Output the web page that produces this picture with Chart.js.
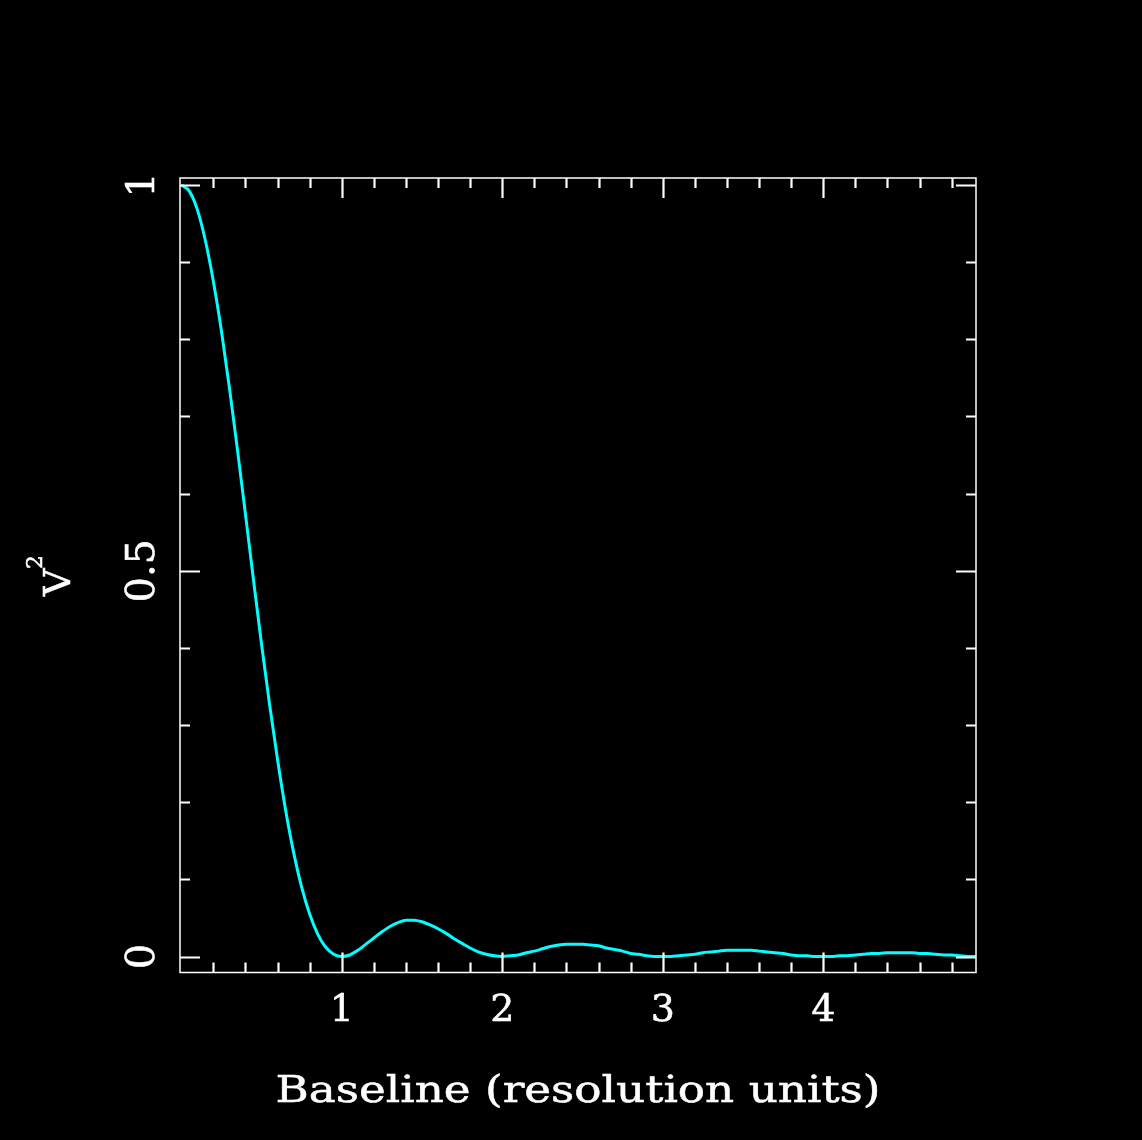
<!DOCTYPE html>
<html>
<head>
<meta charset="utf-8">
<title>V² vs baseline</title>
<script src="https://cdn.jsdelivr.net/npm/chart.js@4.4.1/dist/chart.umd.min.js"></script>
<style>
  html, body { margin: 0; padding: 0; background: #000; }
  #wrap { width: 1142px; height: 1140px; }
</style>
</head>
<body>
<div id="wrap"><canvas id="v2Chart" width="1142" height="1140"></canvas></div>
<script>
// baseline in resolution units
const baselines = [
  0.00, 0.05, 0.10, 0.15, 0.20, 0.25, 0.30, 0.35, 0.40, 0.45,
  0.50, 0.55, 0.60, 0.65, 0.70, 0.75, 0.80, 0.85, 0.90, 0.95,
  1.00, 1.05, 1.10, 1.15, 1.20, 1.25, 1.30, 1.35, 1.40, 1.45,
  1.50, 1.55, 1.60, 1.65, 1.70, 1.75, 1.80, 1.85, 1.90, 1.95,
  2.00, 2.05, 2.10, 2.15, 2.20, 2.25, 2.30, 2.35, 2.40, 2.45,
  2.50, 2.55, 2.60, 2.65, 2.70, 2.75, 2.80, 2.85, 2.90, 2.95,
  3.00, 3.05, 3.10, 3.15, 3.20, 3.25, 3.30, 3.35, 3.40, 3.45,
  3.50, 3.55, 3.60, 3.65, 3.70, 3.75, 3.80, 3.85, 3.90, 3.95,
  4.00, 4.05, 4.10, 4.15, 4.20, 4.25, 4.30, 4.35, 4.40, 4.45,
  4.50, 4.55, 4.60, 4.65, 4.70, 4.75, 4.80, 4.85, 4.90, 4.95
];

// squared visibility
const v2 = [
  1.000, 0.992, 0.968, 0.928, 0.875, 0.811, 0.737, 0.657, 0.573, 0.488,
  0.405, 0.327, 0.255, 0.190, 0.135, 0.090, 0.055, 0.029, 0.012, 0.003,
  0.000, 0.002, 0.008, 0.016, 0.024, 0.032, 0.039, 0.044, 0.047, 0.047,
  0.045, 0.041, 0.036, 0.030, 0.023, 0.017, 0.011, 0.006, 0.003, 0.001,
  0.000, 0.001, 0.002, 0.005, 0.007, 0.010, 0.013, 0.015, 0.016, 0.016,
  0.016, 0.015, 0.014, 0.011, 0.009, 0.007, 0.004, 0.003, 0.001, 0.000,
  0.000, 0.000, 0.001, 0.002, 0.003, 0.005, 0.006, 0.007, 0.008, 0.008,
  0.008, 0.008, 0.007, 0.006, 0.005, 0.004, 0.002, 0.001, 0.001, 0.000,
  0.000, 0.000, 0.001, 0.001, 0.002, 0.003, 0.004, 0.004, 0.005, 0.005,
  0.005, 0.005, 0.004, 0.004, 0.003, 0.002, 0.002, 0.001, 0.000, 0.000
];

const xTickValues = [1, 2, 3, 4];
const xTickLabels = ['1', '2', '3', '4'];
const yTickValues = [0, 0.5, 1];
const yTickLabels = ['0', '0.5', '1'];
const xTitle = 'Baseline (resolution units)';

const FONT = '"DejaVu Serif", "Liberation Serif", serif';

// fill plus a thin stroke so the glyphs look like the heavier plotter font
function heavyText(ctx, s, x, y) {
  ctx.fillText(s, x, y);
  ctx.strokeText(s, x, y);
}

// frame, inward ticks and labels in the old pgplot style
const framePlugin = {
  id: 'frame',
  beforeDraw(chart) {
    const ctx = chart.ctx;
    ctx.save();
    ctx.fillStyle = '#000';
    ctx.fillRect(0, 0, chart.width, chart.height);
    ctx.restore();
  },
  afterDraw(chart) {
    const ctx = chart.ctx;
    const { left, right, top, bottom } = chart.chartArea;
    const xs = chart.scales.x, ys = chart.scales.y;
    ctx.save();
    ctx.strokeStyle = '#fff';
    ctx.fillStyle = '#fff';

    ctx.lineWidth = 1.5;
    ctx.strokeRect(left, top, right - left, bottom - top);

    ctx.lineWidth = 2.2;
    ctx.beginPath();
    // x ticks, minor every 0.2
    for (let i = 1; i * 0.2 < xs.max; i++) {
      const v = i * 0.2;
      const major = i % 5 === 0;
      const len = major ? 20 : 10;
      const px = Math.round(xs.getPixelForValue(v)) + 0.5;
      ctx.moveTo(px, bottom); ctx.lineTo(px, bottom - len);
      ctx.moveTo(px, top); ctx.lineTo(px, top + len);
    }
    // y ticks, minor every 0.1
    for (let i = 0; i <= 10; i++) {
      const v = i / 10;
      const major = i % 5 === 0;
      const len = major ? 20 : 10;
      const py = Math.round(ys.getPixelForValue(v)) + 0.5;
      ctx.moveTo(left, py); ctx.lineTo(left + len, py);
      ctx.moveTo(right, py); ctx.lineTo(right - len, py);
    }
    ctx.stroke();

    ctx.lineWidth = 0.5;
    ctx.font = '38px ' + FONT;
    ctx.textAlign = 'center';
    ctx.textBaseline = 'alphabetic';
    xTickValues.forEach((v, i) => {
      heavyText(ctx, xTickLabels[i], xs.getPixelForValue(v), 1021);
    });

    ctx.font = '40px ' + FONT;
    yTickValues.forEach((v, i) => {
      ctx.save();
      ctx.translate(154, ys.getPixelForValue(v));
      ctx.rotate(-Math.PI / 2);
      heavyText(ctx, yTickLabels[i], 0, 0);
      ctx.restore();
    });

    // x title, stretched to the wide stroke-font width
    ctx.font = '38px ' + FONT;
    const w = ctx.measureText(xTitle).width;
    ctx.save();
    ctx.translate((left + right) / 2, 1102);
    ctx.scale(605 / w, 1);
    heavyText(ctx, xTitle, 0, 0);
    ctx.restore();

    // y title V^2
    ctx.save();
    ctx.translate(70, 596);
    ctx.rotate(-Math.PI / 2);
    ctx.textAlign = 'left';
    heavyText(ctx, 'V', 0, 0);
    ctx.font = '22px ' + FONT;
    heavyText(ctx, '2', 27, -28);
    ctx.restore();

    ctx.restore();
  }
};

new Chart(document.getElementById('v2Chart'), {
  type: 'line',
  data: {
    datasets: [{
      data: baselines.map((b, i) => ({ x: b, y: v2[i] })),
      borderColor: '#00ffff',
      borderWidth: 3,
      pointRadius: 0,
      fill: false,
      cubicInterpolationMode: 'monotone'
    }]
  },
  options: {
    responsive: false,
    animation: false,
    devicePixelRatio: 1,
    layout: { padding: { left: 180, top: 178, right: 166, bottom: 167.5 } },
    plugins: { legend: { display: false }, tooltip: { enabled: false } },
    scales: {
      x: { type: 'linear', min: -0.008, max: 4.952, display: false },
      y: { type: 'linear', min: -0.0207, max: 1.009, display: false }
    }
  },
  plugins: [framePlugin]
});
</script>
</body>
</html>
